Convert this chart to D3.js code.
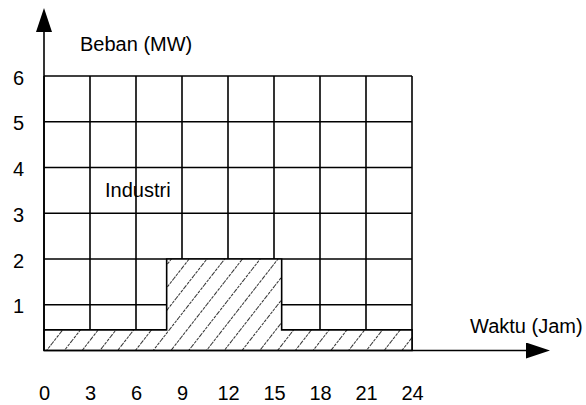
<!DOCTYPE html>
<html>
<head>
<meta charset="utf-8">
<script src="https://cdn.jsdelivr.net/npm/d3@7"></script>
<style>
  body { margin: 0; background: #fff; }
  text { font-family: Arial, "Liberation Sans", sans-serif; fill: #000; }
</style>
</head>
<body>
<div id="chart"></div>
<script>
var width = 586, height = 405;

// load profile (step after), hours vs MW
var hours = [0, 8, 15.5, 24];
var loads = [0.45, 2, 0.45, 0.45];
var xTicks = [0, 3, 6, 9, 12, 15, 18, 21, 24];
var yTicks = [1, 2, 3, 4, 5, 6];

var fontSize = '20px';
var fontFam = 'Arial, "Liberation Sans", sans-serif';

var x = d3.scaleLinear().domain([0, 24]).range([44, 412]);
var y = d3.scaleLinear().domain([0, 6]).range([350.5, 76]);

var svg = d3.select('#chart').append('svg')
    .attr('width', width)
    .attr('height', height);

var defs = svg.append('defs');
var pat = defs.append('pattern')
    .attr('id', 'hatch')
    .attr('patternUnits', 'userSpaceOnUse')
    .attr('width', 14)
    .attr('height', 14)
    .attr('patternTransform', 'rotate(38)');
pat.append('line')
    .attr('x1', 0).attr('y1', 0)
    .attr('x2', 0).attr('y2', 14)
    .attr('stroke', '#000')
    .attr('stroke-width', 1.6)
    .attr('stroke-dasharray', '3,1');

defs.append('marker')
    .attr('id', 'arrow')
    .attr('viewBox', '0 0 24 16')
    .attr('refX', 0).attr('refY', 8)
    .attr('markerWidth', 24).attr('markerHeight', 16)
    .attr('markerUnits', 'userSpaceOnUse')
    .attr('orient', 'auto')
    .append('path')
    .attr('d', 'M0,0L24,8L0,16Z')
    .attr('fill', '#000');

// grid
var grid = svg.append('g');
grid.selectAll('line.v').data(xTicks).enter().append('line')
    .attr('x1', (d) => x(d)).attr('x2', (d) => x(d))
    .attr('y1', y(0)).attr('y2', y(6))
    .attr('stroke', '#000').attr('stroke-width', 1.6);
grid.selectAll('line.h').data(yTicks).enter().append('line')
    .attr('x1', x(0)).attr('x2', x(24))
    .attr('y1', (d) => y(d)).attr('y2', (d) => y(d))
    .attr('stroke', '#000').attr('stroke-width', 1.6);

// hatched load area
var profile = hours.map((h, i) => ({ h: h, v: loads[i] }));
var area = d3.area()
    .curve(d3.curveStepAfter)
    .x((d) => x(d.h))
    .y0(y(0))
    .y1((d) => y(d.v));
svg.append('path').datum(profile)
    .attr('d', area)
    .attr('fill', '#fff');
svg.append('path').datum(profile)
    .attr('d', area)
    .attr('fill', 'url(#hatch)')
    .attr('stroke', '#000')
    .attr('stroke-width', 1.6);

// axes with arrows
svg.append('line')
    .attr('x1', x(0)).attr('y1', y(0))
    .attr('x2', 526).attr('y2', y(0))
    .attr('stroke', '#000').attr('stroke-width', 1.6)
    .attr('marker-end', 'url(#arrow)');
svg.append('line')
    .attr('x1', x(0)).attr('y1', y(0))
    .attr('x2', x(0)).attr('y2', 32)
    .attr('stroke', '#000').attr('stroke-width', 1.6)
    .attr('marker-end', 'url(#arrow)');

// tick labels
var xAxis = svg.append('g')
    .attr('transform', 'translate(0,' + y(0) + ')')
    .call(d3.axisBottom(x).tickValues(xTicks).tickFormat(d3.format('d')).tickSize(0).tickPadding(35));
xAxis.select('.domain').remove();
xAxis.selectAll('text').style('font-size', fontSize).style('font-family', fontFam);

var yAxis = svg.append('g')
    .attr('transform', 'translate(' + x(0) + ',0)')
    .call(d3.axisLeft(y).tickValues(yTicks).tickFormat(d3.format('d')).tickSize(0).tickPadding(20));
yAxis.select('.domain').remove();
yAxis.selectAll('text').style('font-size', fontSize).style('font-family', fontFam)
    .attr('dy', '0.4em');

// labels
svg.append('text').attr('x', 80).attr('y', 51).style('font-size', fontSize).text('Beban (MW)');
svg.append('text').attr('x', 470).attr('y', 333).style('font-size', fontSize).text('Waktu (Jam)');
svg.append('text').attr('x', 105).attr('y', 197).style('font-size', fontSize).text('Industri');
</script>
</body>
</html>
